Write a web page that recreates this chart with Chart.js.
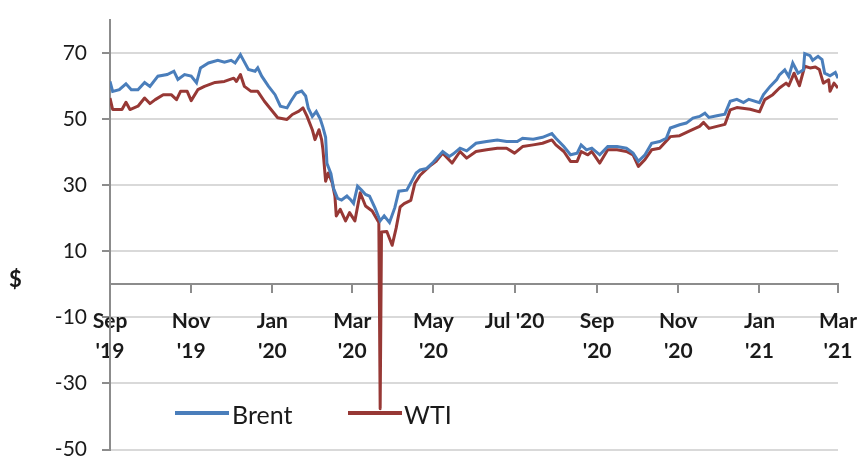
<!DOCTYPE html>
<html>
<head>
<meta charset="utf-8">
<script src="https://cdn.jsdelivr.net/npm/chart.js@4.4.1/dist/chart.umd.min.js"></script>
<style>
    body { margin: 0; background: #fff; }
    #wrap { position: relative; width: 863px; height: 459px; overflow: hidden; }
    #yTitle { position: absolute; left: 9px; top: 265px; font: bold 22px Lato, sans-serif; color: #1a1a1a; }
    .legend-item { position: absolute; top: 399px; font: 25px Lato, sans-serif; color: #1a1a1a; line-height: 30px; }
    .legend-line { position: absolute; height: 4px; top: 411px; }
</style>
</head>
<body>
<div id="wrap">
    <canvas id="oilChart" width="863" height="459"></canvas>
    <div id="yTitle">$</div>
    <div class="legend-line" style="left:175px;width:54px;background:#4a7ebb"></div>
    <div class="legend-item" style="left:232px">Brent</div>
    <div class="legend-line" style="left:348px;width:54px;background:#973835"></div>
    <div class="legend-item" style="left:404px">WTI</div>
</div>
<script>
// Days counted from 1 Sep 2019 (axis runs Sep '19 -> Mar '21)
const brentDays = [0, 2, 7, 12, 16, 21, 26, 30, 36, 43, 48, 51, 56, 61, 65, 68, 74, 81, 86, 91, 94, 98, 100, 104, 109, 111, 114, 119, 124, 128, 133, 136, 140, 144, 147, 149, 152, 155, 158, 160, 162, 163, 166, 168, 171, 174, 178, 181, 183, 186, 189, 192, 195, 199, 203, 206, 210, 214, 217, 223, 230, 233, 238, 243, 250, 255, 258, 263, 268, 275, 283, 291, 298, 306, 310, 318, 325, 332, 335, 341, 346, 351, 354, 358, 362, 368, 374, 381, 388, 393, 397, 402, 407, 413, 418, 421, 428, 433, 438, 443, 447, 450, 456, 462, 466, 471, 476, 480, 488, 491, 496, 501, 503, 507, 510, 513, 517, 521, 522, 526, 528, 532, 535, 537, 541, 545, 547];
const brentPrices = [61.4, 58.4, 58.9, 60.7, 58.9, 58.9, 61.1, 59.9, 63.0, 63.5, 64.5, 62.0, 63.5, 63.0, 61.0, 65.5, 67.0, 67.8, 67.2, 67.8, 67.0, 69.5, 68.0, 65.0, 64.5, 65.5, 63.0, 60.0, 57.4, 53.9, 53.4, 55.5, 57.9, 58.5, 57.0, 53.3, 50.8, 52.3, 50.0, 47.5, 44.5, 36.6, 33.5, 29.0, 26.0, 25.5, 26.7, 25.5, 24.5, 29.7, 28.5, 27.2, 26.7, 23.2, 19.2, 20.7, 18.7, 23.2, 28.2, 28.5, 33.7, 34.6, 35.1, 37.0, 40.2, 38.7, 39.5, 41.2, 40.4, 42.7, 43.2, 43.7, 43.2, 43.2, 44.2, 43.9, 44.5, 45.6, 44.2, 41.7, 39.2, 39.7, 42.2, 40.7, 41.2, 39.2, 41.7, 41.7, 41.2, 39.7, 37.2, 39.2, 42.7, 43.2, 44.2, 47.3, 48.3, 48.8, 50.3, 50.8, 51.8, 50.5, 51.0, 51.5, 55.4, 56.0, 55.0, 56.0, 55.0, 57.4, 59.9, 62.0, 63.4, 64.9, 62.9, 67.0, 63.9, 64.9, 69.8, 69.2, 67.8, 69.0, 68.0, 63.9, 63.1, 64.1, 62.4];

const wtiDays = [0, 2, 9, 12, 15, 21, 26, 30, 34, 40, 46, 50, 53, 58, 61, 66, 71, 79, 86, 93, 95, 98, 101, 106, 111, 116, 121, 126, 133, 137, 142, 145, 148, 152, 154, 157, 159, 160, 162, 164, 167, 169, 170, 173, 177, 180, 184, 188, 192, 197, 202, 203, 204, 208, 212, 215, 218, 221, 226, 229, 233, 240, 245, 250, 257, 263, 268, 275, 283, 291, 298, 304, 310, 318, 325, 332, 335, 341, 346, 351, 354, 359, 362, 368, 374, 381, 388, 393, 397, 402, 407, 413, 421, 428, 436, 443, 446, 450, 456, 462, 466, 471, 481, 488, 492, 498, 503, 508, 510, 514, 518, 522, 526, 530, 533, 536, 540, 541, 544, 547];
const wtiPrices = [56.4, 52.9, 52.9, 55.1, 52.9, 53.9, 56.4, 54.7, 55.9, 57.4, 57.4, 55.9, 58.4, 58.4, 55.6, 58.9, 59.9, 61.1, 61.4, 62.4, 61.4, 63.5, 59.9, 58.4, 58.4, 55.4, 52.9, 50.4, 49.9, 51.4, 52.4, 53.4, 50.9, 46.8, 43.8, 46.8, 43.8, 40.8, 31.2, 33.7, 30.7, 26.7, 20.7, 22.7, 19.2, 21.7, 19.2, 27.7, 23.7, 22.2, 18.7, -37.63, 15.8, 16.0, 11.8, 17.0, 23.4, 24.4, 25.4, 30.5, 33.0, 35.7, 37.2, 39.7, 36.7, 40.2, 38.2, 40.2, 40.7, 41.2, 41.2, 39.7, 41.7, 42.2, 42.7, 43.7, 42.2, 40.2, 37.2, 37.2, 40.2, 39.2, 40.2, 36.7, 40.7, 40.7, 40.2, 39.2, 35.7, 37.8, 40.7, 41.2, 44.7, 45.0, 46.5, 47.8, 49.0, 47.2, 47.8, 48.4, 52.8, 53.5, 53.0, 52.2, 55.9, 57.4, 59.4, 60.9, 60.1, 63.9, 60.1, 66.0, 65.5, 65.8, 65.0, 60.9, 61.9, 58.4, 60.9, 59.4];

// Tick positions (month starts) and labels
const monthDays = [0, 61, 122, 182, 243, 304, 366, 427, 488, 547];
const xTickLabels = [['Sep', "'19"], ['Nov', "'19"], ['Jan', "'20"], ['Mar', "'20"], ['May', "'20"], "Jul '20", ['Sep', "'20"], ['Nov', "'20"], ['Jan', "'21"], ['Mar', "'21"]];
const yTicks = [-50, -30, -10, 10, 30, 50, 70];

const toPoints = (days, vals) => days.map((d, i) => ({ x: d, y: vals[i] }));

const ctx = document.getElementById('oilChart').getContext('2d');
new Chart(ctx, {
    type: 'line',
    data: {
        datasets: [{
            label: 'Brent',
            data: toPoints(brentDays, brentPrices),
            borderColor: '#4a7ebb',
            borderWidth: 3,
            pointRadius: 0,
            tension: 0
        }, {
            label: 'WTI',
            data: toPoints(wtiDays, wtiPrices),
            borderColor: '#973835',
            borderWidth: 3,
            borderJoinStyle: 'round',
            pointRadius: 0,
            tension: 0
        }]
    },
    options: {
        responsive: false,
        animation: false,
        layout: { padding: { top: 20, right: 25, bottom: 9.5, left: 0 } },
        plugins: {
            legend: { display: false },
            tooltip: { enabled: false }
        },
        scales: {
            x: {
                type: 'linear',
                min: 0,
                max: 547,
                position: { y: 0 },
                afterBuildTicks: (scale) => {
                    scale.ticks = monthDays.map(v => ({ value: v }));
                },
                afterFit: (scale) => {
                    // axis sits at y = 0, keep it out of the layout
                    scale.height = 0;
                    scale.paddingLeft = 0;
                    scale.paddingRight = 0;
                    scale.paddingTop = 0;
                    scale.paddingBottom = 0;
                },
                grid: {
                    drawOnChartArea: false,
                    tickLength: 8,
                    tickColor: '#8c8c8c',
                    lineWidth: 2
                },
                border: { color: '#8c8c8c', width: 2 },
                ticks: {
                    autoSkip: false,
                    maxRotation: 0,
                    padding: 14,
                    color: '#1a1a1a',
                    font: { family: 'Lato', size: 21, weight: 'bold', lineHeight: 1.43 },
                    callback: (value, index) => xTickLabels[index]
                }
            },
            y: {
                min: -50,
                max: 80,
                afterFit: (scale) => {
                    scale.width = 110;
                    scale.paddingTop = 0;
                    scale.paddingBottom = 0;
                },
                afterBuildTicks: (scale) => {
                    scale.ticks = yTicks.map(v => ({ value: v }));
                },
                grid: {
                    color: '#d9d9d9',
                    lineWidth: 2,
                    tickLength: 8,
                    tickColor: '#8c8c8c'
                },
                border: { color: '#8c8c8c', width: 2 },
                ticks: {
                    padding: 15,
                    color: '#1a1a1a',
                    font: { family: 'Lato', size: 21 }
                }
            }
        }
    }
});
</script>
</body>
</html>
